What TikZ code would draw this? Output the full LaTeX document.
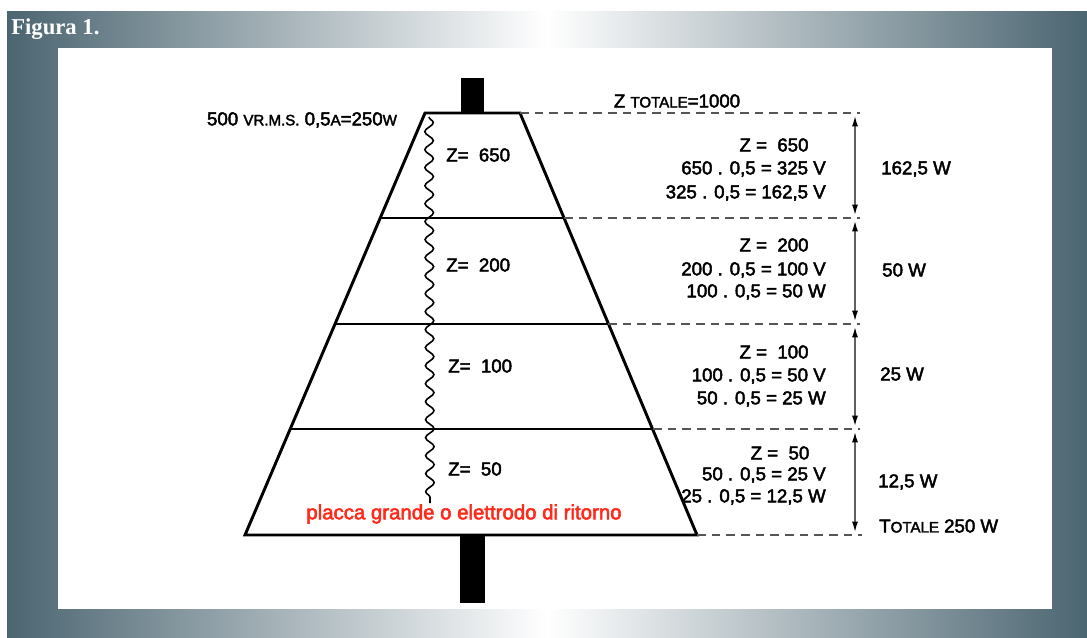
\documentclass[tikz,border=0pt]{standalone}
\usepackage{fontspec}
\setmainfont[FakeBold=2.5]{Liberation Sans}
\newfontfamily\titlefont{Liberation Serif}
\usetikzlibrary{arrows.meta,decorations.pathmorphing}
\definecolor{slate}{HTML}{4B6571}
\definecolor{redtxt}{HTML}{FF2A1A}
\definecolor{dashgray}{HTML}{555555}
\newcommand\smc[1]{{\fontsize{11.3}{13}\selectfont #1}}
\tikzset{
  txt/.style={font=\fontsize{14}{16}\selectfont, inner sep=0pt},
  outline/.style={line width=2.2pt, line join=miter},
  level/.style={line width=1.2pt},
  dashline/.style={dashgray, line width=1.6pt, dash pattern=on 6.5pt off 4.5pt},
  dimline/.style={gray!75!black, line width=1.2pt,
    {Latex[length=8pt,width=4.5pt,black]}-{Latex[length=8pt,width=4.5pt,black]},
    shorten <=2pt, shorten >=2pt},
  wave/.style={line width=1.2pt, decorate,
    decoration={snake, segment length=13.5pt, amplitude=3.2pt}},
}
\begin{document}
\begin{tikzpicture}[x=0.75pt,y=-0.75pt]
\useasboundingbox (0,0) rectangle (1087,637);
\fill[white] (0,0) rectangle (1087,637);
% frame
\shade[left color=slate, right color=slate, middle color=white] (7,11) rectangle (1087,637);
\fill[white] (58,48) rectangle (1052,609);
\node[anchor=west, text=white, inner sep=0pt, font=\titlefont\bfseries\fontsize{17}{20}\selectfont] (title) at (11,29) {Figura 1.};

% poles
\fill (461,78) rectangle (484,114);
\fill (460,534) rectangle (485,603);

% trapezoid corners and level points
\coordinate (tl) at (425,113);
\coordinate (t0) at (520,113);
\coordinate (t4) at (697,535);
\coordinate (bl) at (245,535);
\coordinate (l1) at (380,218); \coordinate (t1) at (564,218);
\coordinate (l2) at (335,324); \coordinate (t2) at (608,324);
\coordinate (l3) at (290,429); \coordinate (t3) at (653,429);

\draw[outline] (tl) -- (t0) -- (t4) -- (bl) -- cycle;
\draw[level] (l1) -- (t1);
\draw[level] (l2) -- (t2);
\draw[level] (l3) -- (t3);

% wavy line
\coordinate (w0) at (429,117);
\coordinate (w1) at (430,503);
\draw[wave] (w0) -- (w1);

% dimension coordinates
\coordinate (d0) at (855,113);
\coordinate (d1) at (855,218);
\coordinate (d2) at (855,324);
\coordinate (d3) at (855,429);
\coordinate (d4) at (855,535);
\coordinate (e0) at (860,113);
\coordinate (e1) at (860,218);
\coordinate (e2) at (860,324);
\coordinate (e3) at (860,429);
\coordinate (e4) at (862,535);

\draw[dashline] (t0) -- (e0);
\draw[dashline] (t1) -- (e1);
\draw[dashline] (t2) -- (e2);
\draw[dashline] (t3) -- (e3);
\draw[dashline] (t4) -- (e4);

\draw[dimline] (d0) -- (d1);
\draw[dimline] (d1) -- (d2);
\draw[dimline] (d2) -- (d3);
\draw[dimline] (d3) -- (d4);

% labels
\node[txt] (vin) at (302,120) {500 \smc{VR.M.S.} 0,5\smc{A}=250\smc{W}};
\node[txt] (ztot) at (677,101) {Z \smc{TOTALE}=1000};

\node[txt, anchor=west] (z1) at (446,155) {Z=~~650};
\node[txt, anchor=west] (z2) at (446,265) {Z=~~200};
\node[txt, anchor=west] (z3) at (448,366) {Z=~~100};
\node[txt, anchor=west] (z4) at (448,469) {Z=~~50};

\node[txt] (a1) at (774,145) {Z~=~~650};
\node[txt, anchor=east] (a2) at (826,169) {650 . 0,5 = 325 V};
\node[txt, anchor=east] (a3) at (826,193) {325 . 0,5 = 162,5 V};

\node[txt] (b1) at (774,245) {Z~=~~200};
\node[txt, anchor=east] (b2) at (826,270) {200 . 0,5 = 100 V};
\node[txt, anchor=east] (b3) at (826,292) {100 . 0,5 = 50 W};

\node[txt] (c1) at (774,352) {Z~=~~100};
\node[txt, anchor=east] (c2) at (826,376) {100 . 0,5 = 50 V};
\node[txt, anchor=east] (c3) at (826,399) {50 . 0,5 = 25 W};

\node[txt] (g1) at (780,453) {Z~=~~50};
\node[txt, anchor=east] (g2) at (826,475) {50 . 0,5 = 25 V};
\node[txt, anchor=east] (g3) at (826,497) {25 . 0,5 = 12,5 W};

\node[txt, anchor=west] (p1) at (881,169) {162,5 W};
\node[txt, anchor=west] (p2) at (882,270) {50 W};
\node[txt, anchor=west] (p3) at (880,374) {25 W};
\node[txt, anchor=west] (p4) at (878,482) {12,5 W};
\node[txt, anchor=west] (pt) at (879,526) {T\smc{OTALE} 250 W};

\node[txt, text=redtxt, font=\fontsize{15.3}{17}\selectfont] (plate) at (464,514) {placca grande o elettrodo di ritorno};
\end{tikzpicture}
\end{document}
